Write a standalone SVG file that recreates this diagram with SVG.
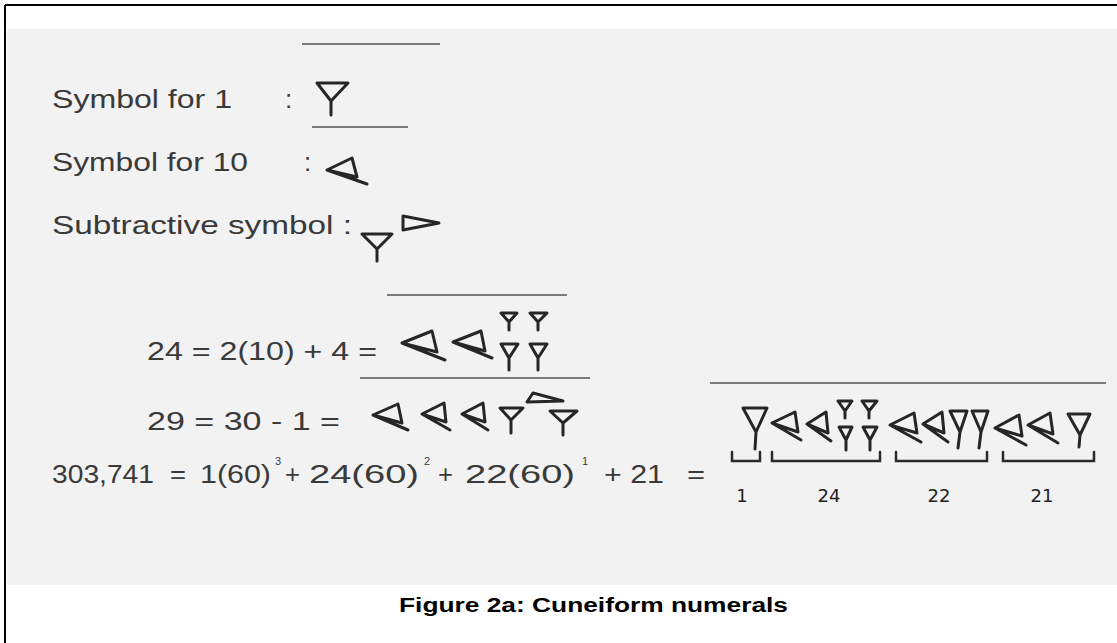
<svg xmlns="http://www.w3.org/2000/svg" width="1117" height="643" viewBox="0 0 1117 643">
<style>
.t{font-family:"Liberation Sans",Arial,sans-serif;font-size:26px;fill:#3a3a3a}
.s{font-family:"Liberation Sans",Arial,sans-serif;font-size:11px;fill:#3a3a3a}
.h{font-family:"DejaVu Sans",sans-serif;font-size:18px;fill:#222}
.cap{font-family:"Liberation Sans",Arial,sans-serif;font-size:20px;font-weight:bold;fill:#000}
.g{fill:none;stroke:#262626;stroke-width:3;stroke-linejoin:round;stroke-linecap:round}
.e{fill:none;stroke:#555;stroke-width:1.5}
.b{fill:none;stroke:#2a2a2a;stroke-width:2.5;stroke-linecap:round}
</style>
<rect x="0" y="0" width="1117" height="643" fill="#ffffff"/>
<rect x="7" y="29" width="1110" height="556" fill="#f2f2f2"/>
<path d="M5,5 L1117,5 M5,5 L5,643" fill="none" stroke="#000" stroke-width="2"/>

<g id="paper-edges">
<path class="e" d="M302,44 L440,44 M312,127 L408,127 M387,295 L567,295 M360,378 L590,378 M710,383 L1106,383"/>
</g>

<g id="legend-one">
<text class="t" x="52" y="108" textLength="180" lengthAdjust="spacingAndGlyphs">Symbol for 1</text>
<text class="t" x="285" y="108">:</text>
<path class="g" d="M317,83 L348,83 L331,101 Z M331,101 L331,115"/>
</g>

<g id="legend-ten">
<text class="t" x="52" y="171" textLength="196" lengthAdjust="spacingAndGlyphs">Symbol for 10</text>
<text class="t" x="304" y="171">:</text>
<path class="g" d="M327,170 L352,158 L357,177 Z M327,170 L367,184"/>
</g>

<g id="legend-subtractive">
<text class="t" x="52" y="234" textLength="300" lengthAdjust="spacingAndGlyphs">Subtractive symbol :</text>
<path class="g" d="M362,234 L392,234 L377,249 Z M377,249 L377,261"/>
<path class="g" d="M403,216 L439,223 L403,230 Z"/>
</g>

<g id="row-24">
<text class="t" x="147" y="360" textLength="230" lengthAdjust="spacingAndGlyphs">24 = 2(10) + 4 =</text>
<path class="g" d="M402,343 L432,331 L437,352 Z M402,343 L445,360"/>
<path class="g" d="M453,342 L481,331 L485,351 Z M453,342 L492,358"/>
<path class="g" d="M501,313 L517,313 L509,322 Z M509,322 L509,330 M530,313 L547,313 L538,322 Z M538,322 L538,330"/>
<path class="g" d="M501,344 L518,344 L509,358 Z M509,358 L509,370 M530,344 L547,344 L538,358 Z M538,358 L538,370"/>
</g>

<g id="row-29">
<text class="t" x="147" y="430" textLength="193" lengthAdjust="spacingAndGlyphs">29 =  30 - 1 =</text>
<path class="g" d="M373,415 L398,404 L402,423 Z M373,415 L408,430"/>
<path class="g" d="M422,414 L444,403 L446,422 Z M422,414 L450,430"/>
<path class="g" d="M462,414 L483,403 L485,422 Z M462,414 L488,430"/>
<path class="g" d="M500,408 L523,408 L511,420 Z M511,420 L511,433"/>
<path class="g" d="M527,402 L533,393 L563,401 Z"/>
<path class="g" d="M550,411 L577,411 L563,423 Z M563,423 L563,435"/>
</g>

<g id="row-303741">
<text class="t" x="52" y="483" textLength="102" lengthAdjust="spacingAndGlyphs">303,741</text>
<text class="t" x="170" y="483" textLength="16" lengthAdjust="spacingAndGlyphs">=</text>
<text class="t" x="200" y="483" textLength="71" lengthAdjust="spacingAndGlyphs">1(60)</text>
<text class="s" x="275" y="465">3</text>
<text class="t" x="285" y="483" textLength="15" lengthAdjust="spacingAndGlyphs">+</text>
<text class="t" x="309" y="483" textLength="110" lengthAdjust="spacingAndGlyphs">24(60)</text>
<text class="s" x="424" y="465">2</text>
<text class="t" x="438" y="483" textLength="15" lengthAdjust="spacingAndGlyphs">+</text>
<text class="t" x="465" y="483" textLength="110" lengthAdjust="spacingAndGlyphs">22(60)</text>
<text class="s" x="582" y="465">1</text>
<text class="t" x="604" y="483" textLength="60" lengthAdjust="spacingAndGlyphs">+ 21</text>
<text class="t" x="687" y="483" textLength="18" lengthAdjust="spacingAndGlyphs">=</text>

<path class="g" d="M743,408 L767,408 L756,432 Z M756,432 L755,449"/>
<path class="g" d="M772,423 L795,412 L798,432 Z M772,423 L801,440"/>
<path class="g" d="M807,424 L826,412 L828,433 Z M807,424 L831,441"/>
<path class="g" d="M838,401 L852,401 L845,411 Z M845,411 L845,418 M862,401 L877,401 L869,411 Z M869,411 L869,418"/>
<path class="g" d="M839,427 L852,427 L846,440 Z M846,440 L846,450 M863,427 L877,427 L870,440 Z M870,440 L870,450"/>
<path class="g" d="M890,425 L914,413 L917,433 Z M890,425 L921,442"/>
<path class="g" d="M923,424 L942,412 L944,433 Z M923,424 L948,442"/>
<path class="g" d="M950,411 L967,411 L960,432 Z M960,432 L958,448 M972,411 L988,411 L981,432 Z M981,432 L979,448"/>
<path class="g" d="M995,428 L1019,415 L1022,436 Z M995,428 L1026,445"/>
<path class="g" d="M1028,425 L1050,413 L1053,434 Z M1028,425 L1058,443"/>
<path class="g" d="M1068,414 L1090,414 L1080,435 Z M1080,435 L1079,447"/>

<path class="b" d="M732,452 L732,461 L760,461 L760,452 M772,452 L772,461 L880,461 L880,452 M896,452 L896,461 L987,461 L987,452 M1003,452 L1003,461 L1094,461 L1094,452"/>
<text class="h" x="742" y="502" text-anchor="middle">1</text>
<text class="h" x="829" y="502" text-anchor="middle">24</text>
<text class="h" x="939" y="502" text-anchor="middle">22</text>
<text class="h" x="1042" y="502" text-anchor="middle">21</text>
</g>

<g id="caption">
<text class="cap" x="399" y="612" textLength="389" lengthAdjust="spacingAndGlyphs">Figure 2a: Cuneiform numerals</text>
</g>
</svg>
